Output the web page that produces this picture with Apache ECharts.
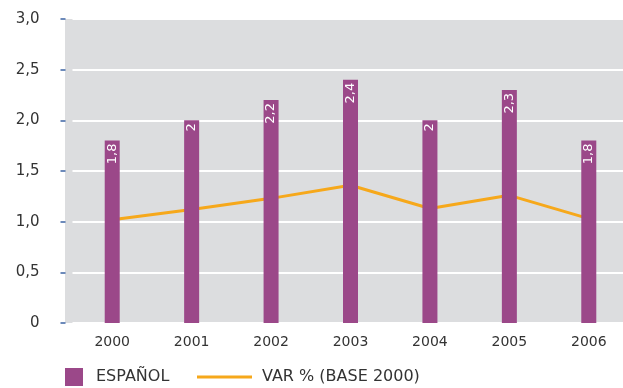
<!DOCTYPE html>
<html>
<head>
<meta charset="utf-8">
<script src="https://cdn.jsdelivr.net/npm/echarts@6/dist/echarts.min.js"></script>
<style>
  html, body { margin: 0; padding: 0; background: #fff; overflow: hidden; width: 623px; height: 388px; }
  #chart { width: 640px; height: 388px; }
</style>
</head>
<body>
<div id="chart"></div>
<script>
// Years on the category axis
const years = ['2000', '2001', '2002', '2003', '2004', '2005', '2006'];
// Bar series: ESPAÑOL
const espanol = [1.8, 2.0, 2.2, 2.4, 2.0, 2.3, 1.8];
// Line series: VAR % (BASE 2000)
const variacion = [1.02, 1.12, 1.23, 1.36, 1.13, 1.26, 1.03];
// Value axis range
const yMin = 0, yMax = 3, yStep = 0.5;

const FONT = 'DejaVu Sans';
const PURPLE = '#9b4889';
const ORANGE = '#f6a81b';

const fmt = v => (Number.isInteger(v) ? String(v) : v.toFixed(1).replace('.', ','));
const fmtTick = v => (v === 0 ? '0' : v.toFixed(1).replace('.', ','));

const chart = echarts.init(document.getElementById('chart'), null, { renderer: 'canvas' });
chart.setOption({
  animation: false,
  backgroundColor: '#ffffff',
  textStyle: { fontFamily: FONT },
  graphic: [{
    type: 'rect',
    z: -100,
    shape: { x: 65, y: 19, width: 558, height: 304 },
    style: { fill: '#dcdddf' },
    silent: true
  }],
  grid: { left: 72.5, top: 19, width: 556, height: 304 },
  legend: [
    {
      data: ['ESPAÑOL'],
      left: 65, top: 368,
      icon: 'rect', itemWidth: 18, itemHeight: 18, itemGap: 0,
      textStyle: { fontFamily: FONT, fontSize: 16, color: '#333', padding: [0, 0, 0, 8] },
      padding: 0
    },
    {
      data: ['VAR % (BASE 2000)'],
      left: 197, top: 369,
      icon: 'rect', itemWidth: 55, itemHeight: 3,
      textStyle: { fontFamily: FONT, fontSize: 16, color: '#333', padding: [0, 0, 0, 5] },
      padding: 0
    }
  ],
  xAxis: {
    type: 'category',
    data: years,
    axisLine: { show: false },
    axisTick: { show: false },
    axisLabel: { color: '#333', fontSize: 14, fontFamily: FONT, margin: 12 },
    splitLine: { show: false }
  },
  yAxis: {
    type: 'value',
    min: yMin, max: yMax, interval: yStep,
    offset: 7,
    axisLine: { show: false },
    axisTick: { show: true, length: 5, lineStyle: { color: '#3c64a4', width: 1.5 } },
    axisLabel: { color: '#333', fontSize: 15, fontFamily: FONT, margin: 26, formatter: fmtTick },
    splitLine: { show: true, lineStyle: { color: '#ffffff', width: 2 } }
  },
  series: [
    {
      name: 'VAR % (BASE 2000)',
      type: 'line',
      data: variacion,
      z: 2,
      symbol: 'none',
      itemStyle: { color: ORANGE },
      lineStyle: { color: ORANGE, width: 3 }
    },
    {
      name: 'ESPAÑOL',
      type: 'bar',
      data: espanol,
      z: 5,
      barWidth: 15,
      itemStyle: { color: PURPLE },
      label: {
        show: true,
        position: 'insideTop',
        rotate: 90,
        align: 'right',
        verticalAlign: 'middle',
        distance: 3,
        color: '#ffffff',
        fontSize: 13,
        fontFamily: FONT,
        formatter: p => fmt(p.value)
      }
    }
  ]
});
</script>
</body>
</html>
